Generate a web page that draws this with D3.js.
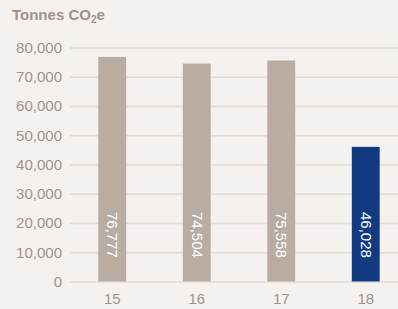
<!DOCTYPE html>
<html>
<head>
<meta charset="utf-8">
<script src="https://cdn.jsdelivr.net/npm/d3@7"></script>
<style>
  html, body { margin: 0; padding: 0; background: #f5f1ee; }
  svg { display: block; font-family: "Liberation Sans", Arial, sans-serif; }
</style>
</head>
<body>
<div id="output"></div>
<script>
const years = ["15", "16", "17", "18"];
const tonnes = [76777, 74504, 75558, 46028];
const barColors = ["#b9aca3", "#b9aca3", "#b9aca3", "#123a80"];
const yTicks = [0, 10000, 20000, 30000, 40000, 50000, 60000, 70000, 80000];

const w = 398, h = 309;
const textColor = "#a0938b";
const gridColor = "#e3dcd7";

const svg = d3.select("#output").append("svg").attr("width", w).attr("height", h);

const x = d3.scaleBand().domain(years).range([70, 408]).paddingInner(0.67).paddingOuter(0.335);
const y = d3.scaleLinear().domain([0, 80000]).range([281.5, 47.5]);

// title with subscript 2
const title = svg.append("text")
    .attr("x", 12)
    .attr("y", 20)
    .style("font-size", "15px")
    .style("font-weight", "bold")
    .style("fill", textColor);
title.append("tspan").text("Tonnes CO");
title.append("tspan").attr("dy", 3).style("font-size", "10px").text("2");
title.append("tspan").attr("dy", -3).text("e");

const yAxis = svg.append("g")
    .attr("transform", "translate(70,0)")
    .call(d3.axisLeft(y).tickValues(yTicks).tickSize(-(w - 70)).tickPadding(8).tickFormat(d3.format(",")));
yAxis.select(".domain").remove();
yAxis.selectAll(".tick line").style("stroke", gridColor).style("stroke-width", 1.5);
yAxis.selectAll(".tick text")
    .style("fill", textColor)
    .style("font-size", "15px")
    .style("font-family", "Liberation Sans, Arial, sans-serif");

svg.selectAll("rect.bar")
    .data(tonnes)
    .join("rect")
    .attr("class", "bar")
    .attr("x", (d, i) => x(years[i]))
    .attr("width", x.bandwidth())
    .attr("y", d => y(d))
    .attr("height", d => y(0) - y(d))
    .style("fill", (d, i) => barColors[i]);

svg.selectAll("text.val")
    .data(tonnes)
    .join("text")
    .attr("class", "val")
    .attr("transform", (d, i) => "translate(" + (x(years[i]) + x.bandwidth() / 2 - 5) + ",212) rotate(90)")
    .style("fill", "#ffffff")
    .style("font-size", "15px")
    .text(d => d3.format(",")(d));

const xAxis = svg.append("g")
    .attr("transform", "translate(0," + y(0) + ")")
    .call(d3.axisBottom(x).tickSize(0).tickPadding(12));
xAxis.select(".domain").remove();
xAxis.selectAll(".tick text")
    .style("fill", textColor)
    .style("font-size", "15px")
    .style("font-family", "Liberation Sans, Arial, sans-serif");
</script>
</body>
</html>
